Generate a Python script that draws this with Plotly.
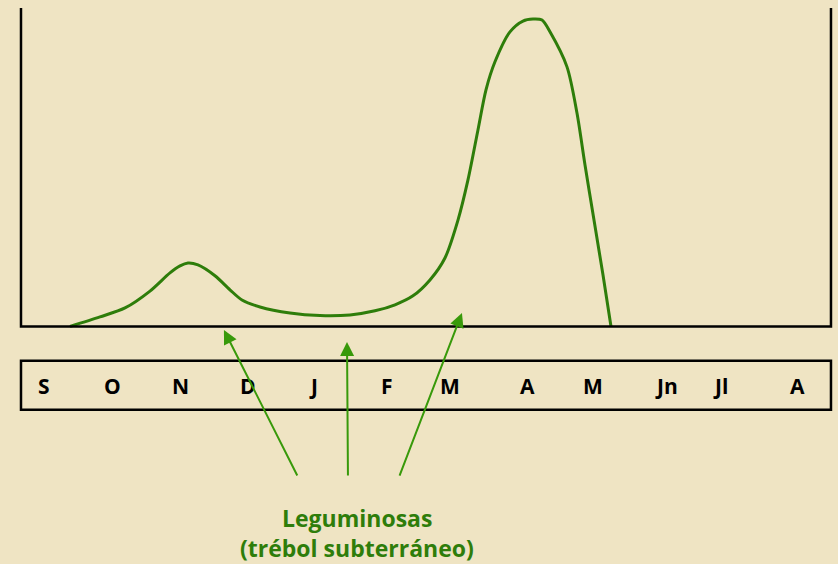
import plotly.graph_objects as go

# month strip: labels and their centres (month units, frame spans 0..12)
months = ["S", "O", "N", "D", "J", "F", "M", "A", "M", "Jn", "Jl", "A"]
month_pos = [0.34, 1.35, 2.37, 3.36, 4.33, 5.42, 6.36, 7.50, 8.47, 9.57, 10.37, 11.51]

# legume growth curve (relative production, 0..100)
curve_x = [0.726, 1.170, 1.541, 1.911, 2.207, 2.356, 2.474, 2.622, 2.874, 3.096,
           3.274, 3.541, 3.985, 4.430, 4.874, 5.244, 5.541, 5.807, 6.059, 6.281,
           6.474, 6.622, 6.770, 6.889, 7.022, 7.244, 7.437, 7.585, 7.719, 7.837,
           8.089, 8.237, 8.356, 8.489, 8.622, 8.741]
curve_y = [0.0, 3.0, 5.8, 11.1, 16.8, 19.0, 19.9, 19.3, 15.9, 11.5,
           8.3, 6.1, 4.2, 3.4, 3.6, 4.9, 6.8, 9.6, 14.6, 21.5,
           33.4, 46.0, 61.7, 74.3, 83.1, 92.5, 95.9, 96.5, 96.2, 92.5,
           81.5, 67.0, 50.7, 33.4, 16.2, 0.0]

# arrows from the label up to the curve
arrow_tip_x = [3.007, 4.830, 6.533]
arrow_tip_y = [-1.1, -4.9, 4.2]
arrow_tail_x = [4.104, 4.844, 5.600]
arrow_tail_y = [-47.3, -47.3, -47.3]

label_lines = ["Leguminosas", "(trébol subterráneo)"]

BG = "#EFE4C3"
CURVE = "#2E7D0A"
ARROW = "#38990A"

fig = go.Figure()
fig.add_trace(go.Scatter(
    x=curve_x, y=curve_y, mode="lines",
    line=dict(color=CURVE, width=3, shape="spline", smoothing=0.8),
    showlegend=False, hoverinfo="skip",
))

# frame open at the top, and the month box
fig.add_shape(type="path", path="M 0,100 L 0,0 L 12,0 L 12,100",
              xref="x", yref="y", line=dict(color="black", width=2.5))
fig.add_shape(type="rect", x0=0, x1=12, y0=-26.2, y1=-10.8,
              xref="x", yref="y", line=dict(color="black", width=2.5))

for m, px in zip(months, month_pos):
    fig.add_annotation(x=px, y=-18.6, text=f"<b>{m}</b>", showarrow=False,
                       font=dict(family="Open Sans", size=21, color="black"))

for tx, ty, ax, ay in zip(arrow_tip_x, arrow_tip_y, arrow_tail_x, arrow_tail_y):
    fig.add_annotation(x=tx, y=ty, ax=ax, ay=ay, xref="x", yref="y",
                       axref="x", ayref="y", text="", showarrow=True,
                       arrowhead=2, arrowsize=1.4, arrowwidth=2,
                       arrowcolor=ARROW, standoff=0)

for line, yy in zip(label_lines, [-60.3, -69.6]):
    fig.add_annotation(x=4.978, y=yy, text=f"<b>{line}</b>", showarrow=False,
                       font=dict(family="Open Sans", size=23, color=CURVE))

fig.update_layout(
    width=838, height=564,
    margin=dict(l=0, r=0, t=0, b=0),
    paper_bgcolor=BG, plot_bgcolor=BG,
    xaxis=dict(range=[-0.311, 12.104], visible=False, fixedrange=True),
    yaxis=dict(range=[-74.6, 102.5], visible=False, fixedrange=True),
)

fig.write_html("out.html",
               config={"displayModeBar": False},
               post_script="document.body.style.margin='0';"
                           "document.body.style.background='%s';" % BG)
